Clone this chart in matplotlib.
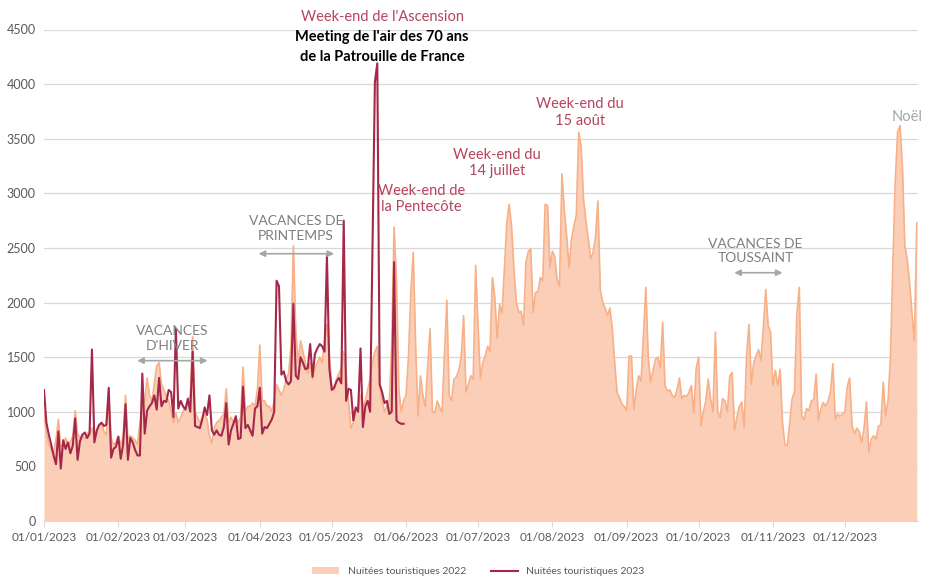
import pandas as pd
import matplotlib
matplotlib.use("Agg")
import matplotlib.pyplot as plt
import matplotlib.dates as mdates

plt.rcParams['font.family'] = ['Lato', 'DejaVu Sans']

# Nuitées touristiques 2022 (daily, aligned on the 2023 calendar)
nuitees_2022 = [
    # janvier
    1000, 800, 710, 650, 620, 750, 930, 680, 700, 760, 700, 720, 780, 1010, 800, 760,
    790, 750, 800, 820, 850, 740, 800, 880, 900, 820, 790, 1130, 760, 700, 720,
    # fevrier
    780, 700, 760, 1150, 750, 780, 760, 740, 700, 900, 1070, 1100, 1310, 1150, 1100, 1250,
    1420, 1450, 1250, 1200, 1150, 1100, 1000, 900, 990, 900, 950, 1000,
    # mars
    1050, 1100, 1150, 1690, 1000, 950, 900, 950, 980, 930, 780, 710, 850, 900, 920, 950,
    980, 1210, 900, 950, 900, 950, 900, 950, 1410, 1000, 1050, 1050, 1080, 1050, 1200,
    # avril
    1610, 1100, 1100, 1050, 1050, 1000, 1100, 1250, 1200, 1150, 1200, 1300, 1350, 1600, 2520,
    1750, 1450, 1650, 1550, 1450, 1350, 1450, 1300, 1400, 1450, 1500, 1450, 1650, 1800, 1500,
    # mai
    1250, 1200, 1300, 1350, 1400, 1550, 1350, 1100, 850, 900, 1000, 1050, 1150, 1050, 1100,
    1200, 1300, 1450, 1550, 1600, 1250, 1100, 1000, 1050, 1100, 1600, 2690, 2200, 1200, 1000, 1100,
    # juin
    1150, 1500, 2100, 2460, 1600, 960, 1330, 1150, 1050, 1400, 1760, 1000, 990, 1100, 1040,
    1000, 1500, 2020, 1150, 1100, 1300, 1320, 1380, 1500, 1880, 1180, 1250, 1330, 1300, 2340,
    # juillet
    1800, 1300, 1450, 1510, 1600, 1550, 2230, 2050, 1670, 1980, 1900, 2300, 2730, 2900, 2700, 2300,
    2000, 1910, 1920, 1790, 2370, 2470, 2490, 1910, 2090, 2100, 2230, 2200, 2900, 2890, 2320,
    # aout
    2470, 2420, 2210, 2150, 3180, 2850, 2600, 2320, 2580, 2700, 2800, 3560, 3430, 2950, 2750, 2580,
    2400, 2460, 2600, 2930, 2120, 2000, 1950, 1880, 1950, 1760, 1450, 1180, 1130, 1070, 1050,
    # septembre
    1010, 1510, 1510, 1020, 1200, 1330, 1280, 1700, 2140, 1500, 1270, 1380, 1480, 1500, 1400,
    1820, 1240, 1190, 1200, 1150, 1130, 1200, 1310, 1120, 1150, 1140, 1180, 1240, 990, 1400,
    # octobre
    1500, 870, 1000, 1100, 1300, 1120, 1000, 1730, 990, 950, 1120, 1100, 1000, 1330, 1360, 830,
    950, 1050, 1090, 860, 1510, 1800, 1250, 1450, 1510, 1570, 1470, 1770, 2120, 1790, 1730,
    # novembre
    1240, 1380, 1240, 1390, 900, 700, 690, 900, 1120, 1180, 1900, 2140, 960, 930, 1030,
    1010, 1100, 1110, 1345, 920, 1030, 1085, 1050, 1100, 1180, 1440, 930, 980, 960, 980,
    # decembre
    1000, 1230, 1310, 870, 800, 850, 820, 720, 850, 1090, 630, 750, 780, 750, 870, 880,
    1270, 960, 1100, 1500, 2330, 3100, 3560, 3620, 3250, 2520, 2400, 2180, 1900, 1650, 2730,
]

# Nuitées touristiques 2023 (1er janvier -> 31 mai)
nuitees_2023 = [
    # janvier
    1200, 900, 790, 700, 600, 520, 820, 480, 740, 660, 720, 620, 690, 940, 560, 730,
    790, 810, 760, 800, 1570, 720, 830, 880, 900, 870, 880, 1220, 580, 660, 680,
    # fevrier
    770, 570, 700, 1070, 560, 760, 720, 650, 600, 600, 1350, 800, 1010, 1050, 1080, 1150,
    1020, 1310, 1050, 1100, 1090, 1200, 1180, 950, 1760, 1030, 1100, 1050,
    # mars
    1020, 1120, 1000, 1550, 870, 860, 850, 930, 1040, 970, 1150, 830, 790, 830, 790, 780,
    860, 1080, 700, 830, 890, 960, 750, 760, 1230, 850, 880, 830, 780, 1030, 1050,
    # avril
    1220, 800, 860, 850, 890, 930, 1000, 2200, 2150, 1340, 1370, 1280, 1250, 1280, 1990,
    1330, 1300, 1500, 1450, 1390, 1400, 1620, 1320, 1530, 1580, 1620, 1600, 1550, 2430, 1400,
    # mai
    1200, 1220, 1280, 1310, 1260, 2750, 1100, 1210, 1200, 920, 1040, 1000, 1580, 860, 1050,
    1100, 1000, 2500, 4020, 4190, 1250, 1180, 1080, 1100, 980, 1000, 2370, 920, 900, 890, 890,
]

dates_2022 = pd.date_range("2023-01-01", periods=len(nuitees_2022), freq="D")
dates_2023 = pd.date_range("2023-01-01", periods=len(nuitees_2023), freq="D")

red = '#a5284a'
red_txt = '#b5445f'
grey_txt = '#7f7f7f'

fig = plt.figure(figsize=(9.27, 5.81), dpi=100)
ax = fig.add_axes([44 / 927, 60 / 581, 874 / 927, 491.5 / 581])

ax.fill_between(dates_2022, nuitees_2022, color='#fbcfb7', lw=0,
                label='Nuitées touristiques 2022')
ax.plot(dates_2022, nuitees_2022, color='#f7b088', lw=1.2)
ax.plot(dates_2023, nuitees_2023, color=red, lw=1.5,
        label='Nuitées touristiques 2023')

ax.set_ylim(0, 4500)
ax.set_yticks(range(0, 4501, 500))
ax.set_xlim(pd.Timestamp("2023-01-01"), pd.Timestamp("2023-12-31 12:00"))
ax.xaxis.set_major_locator(mdates.MonthLocator())
ax.xaxis.set_major_formatter(mdates.DateFormatter('%d/%m/%Y'))
ax.grid(axis='y', color='#d9d9d9', lw=0.9)
ax.set_axisbelow(True)
for s in ['top', 'right', 'left']:
    ax.spines[s].set_visible(False)
ax.spines['bottom'].set_color('#d9d9d9')
ax.tick_params(axis='x', colors='#d9d9d9', labelcolor='#595959', labelsize=8.5,
               length=4, pad=4)
ax.tick_params(axis='y', length=0, labelcolor='#595959', labelsize=9, pad=6)


def day(n):
    return pd.Timestamp("2023-01-01") + pd.Timedelta(days=n)


# annotations
ax.text(day(141), 4614, "Week-end de l'Ascension", color=red_txt, fontsize=10.5,
        ha='center', va='center', clip_on=False)
ax.text(day(141), 4431, "Meeting de l'air des 70 ans", color='black', fontsize=10.5,
        fontweight='bold', ha='center', va='center', clip_on=False)
ax.text(day(141), 4248, "de la Patrouille de France", color='black', fontsize=10.5,
        fontweight='bold', ha='center', va='center', clip_on=False)
ax.text(day(157.5), 2950, "Week-end de\nla Pentecôte", color=red_txt, fontsize=10.5,
        ha='center', va='center', linespacing=1.2)
ax.text(day(189), 3278, "Week-end du\n14 juillet", color=red_txt, fontsize=10.5,
        ha='center', va='center', linespacing=1.2)
ax.text(day(223.4), 3740, "Week-end du\n15 août", color=red_txt, fontsize=10.5,
        ha='center', va='center', linespacing=1.2)
ax.text(day(360), 3700, "Noël", color='#a6a6a6', fontsize=10.5,
        ha='center', va='center')

vacances = [
    ("VACANCES\nD'HIVER", 53.6, 1669, 38.9, 68.2, 1468),
    ("VACANCES DE\nPRINTEMPS", 105, 2680, 89.5, 121, 2447),
    ("VACANCES DE\nTOUSSAINT", 296.7, 2473, 287.9, 308, 2273),
]
for label, xc, yc, x0, x1, ya in vacances:
    ax.text(day(xc), yc, label, color=grey_txt, fontsize=10,
            ha='center', va='center', linespacing=1.25)
    ax.annotate('', xy=(day(x0), ya), xytext=(day(x1), ya),
                arrowprops=dict(arrowstyle='<|-|>', color='#a6a6a6', lw=1.2,
                                mutation_scale=9, shrinkA=0, shrinkB=0))

fig.legend(loc='lower center', bbox_to_anchor=(0.516, -0.008), ncol=2, frameon=False,
           fontsize=7.5, labelcolor='#595959', handlelength=2.6, columnspacing=2.4)

fig.savefig('out.png', dpi=100)
